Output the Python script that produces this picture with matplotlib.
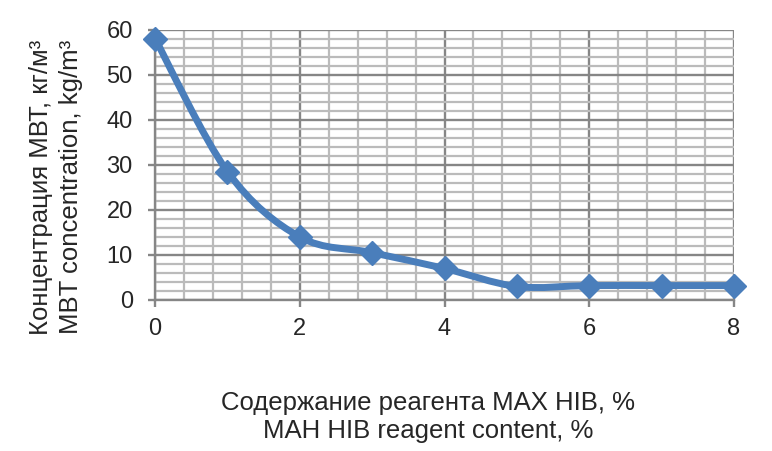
import numpy as np
import matplotlib
matplotlib.use('Agg')
import matplotlib.pyplot as plt
from matplotlib.path import Path
import matplotlib.patches as patches
from matplotlib.ticker import MultipleLocator

plt.rcParams['font.family'] = ['Liberation Sans', 'DejaVu Sans']

# reagent content, % and MBT concentration, kg/m3
content = [0, 1, 2, 3, 4, 5, 6, 7, 8]
mbt = [58, 28.5, 14, 10.5, 7, 3, 3.2, 3.2, 3.2]

xlabel = 'Содержание реагента MAX HIB, %\nMAH HIB reagent content, %'
ylabel = 'Концентрация МВТ, кг/м³\nMBT concentration, kg/m³'

blue = '#4A7EBB'
textc = '#262626'


def smooth_path(x, y):
    # excel-like smoothed line: cubic bezier with catmull-rom control points
    pts = np.column_stack((x, y)).astype(float)
    verts = [pts[0]]
    codes = [Path.MOVETO]
    n = len(pts)
    for i in range(n - 1):
        p0 = pts[i - 1] if i > 0 else pts[i]
        p1 = pts[i]
        p2 = pts[i + 1]
        p3 = pts[i + 2] if i + 2 < n else pts[i + 1]
        c1 = p1 + (p2 - p0) / 6.0
        c2 = p2 - (p3 - p1) / 6.0
        verts += [c1, c2, p2]
        codes += [Path.CURVE4] * 3
    return Path(verts, codes)


fig = plt.figure(figsize=(7.72, 4.51), dpi=100)
ax = fig.add_axes([155 / 772, 1 - 300 / 451, (734 - 155) / 772, (300 - 29.5) / 451])

ax.set_xlim(0, 8)
ax.set_ylim(0, 60)
ax.xaxis.set_major_locator(MultipleLocator(2))
ax.xaxis.set_minor_locator(MultipleLocator(0.4))
ax.yaxis.set_major_locator(MultipleLocator(10))
ax.yaxis.set_minor_locator(MultipleLocator(2))

ax.grid(which='minor', color='#BBBBBB', linewidth=1.6)
ax.grid(which='major', color='#868686', linewidth=1.7)
ax.set_axisbelow(True)

for s in ['top', 'right']:
    ax.spines[s].set_visible(False)
for s in ['left', 'bottom']:
    ax.spines[s].set_color('#868686')
    ax.spines[s].set_linewidth(1.7)

ax.tick_params(which='major', length=5, width=1.7, color='#868686',
               labelsize=17, labelcolor=textc)
ax.tick_params(which='minor', length=0)
ax.tick_params(axis='x', pad=8)
ax.tick_params(axis='y', pad=11)

ax.add_patch(patches.PathPatch(smooth_path(content, mbt), facecolor='none',
                               edgecolor=blue, linewidth=5, capstyle='round',
                               joinstyle='round', zorder=3, clip_on=False))
ax.plot(content, mbt, linestyle='none', marker='D', markersize=12,
        color=blue, zorder=4, clip_on=False)

fig.text(428 / 772, 1 - 417 / 451, xlabel, ha='center', va='center',
         fontsize=18.5, color=textc, linespacing=1.2)
fig.text(56 / 772, 1 - 187 / 451, ylabel, ha='center', va='center',
         rotation=90, fontsize=18.5, color=textc, linespacing=1.3)

fig.savefig('out.png', dpi=100)
